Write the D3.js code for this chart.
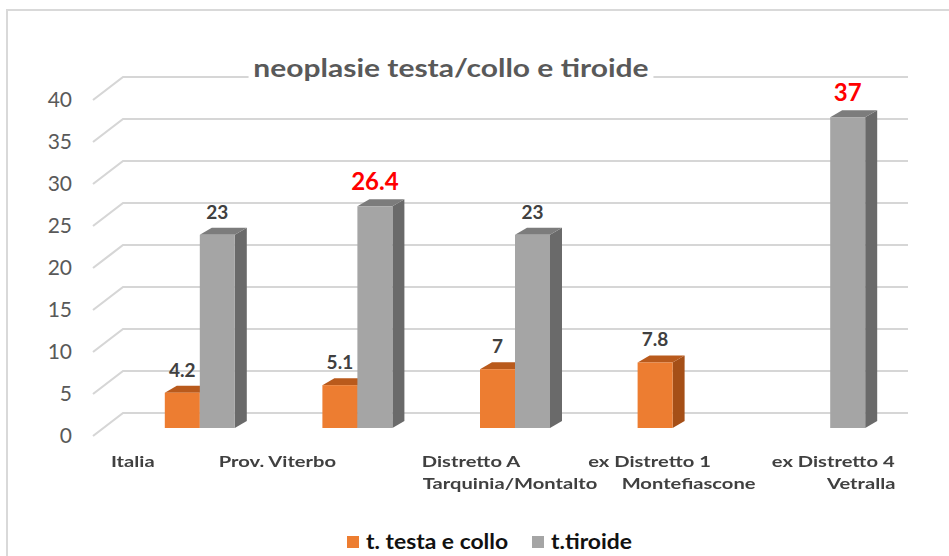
<!DOCTYPE html>
<html>
<head>
<meta charset="utf-8">
<script src="https://cdn.jsdelivr.net/npm/d3@7"></script>
<style>
  html, body { margin: 0; padding: 0; background: #fff; }
  svg { display: block; font-family: Lato, "Open Sans", sans-serif; }
</style>
</head>
<body>
<svg id="chart" width="949" height="556"></svg>
<script>
// Category labels (one entry per line of each label)
const categories = ["Italia", "Prov. Viterbo", "Distretto A", "ex Distretto 1", "ex Distretto 4"];
const categoryLines = [
  ["Italia"],
  ["Prov. Viterbo"],
  ["Distretto A", "Tarquinia/Montalto"],
  ["ex Distretto 1", "Montefiascone"],
  ["ex Distretto 4", "Vetralla"]
];
const seriesNames = ["t. testa e collo", "t.tiroide"];
const testaCollo = [4.2, 5.1, 7, 7.8, null];
const tiroide = [23, 26.4, 23, null, 37];
// values printed in red
const tiroideHighlight = [false, true, false, false, true];
const yTicks = [0, 5, 10, 15, 20, 25, 30, 35, 40];
const chartTitle = "neoplasie testa/collo e tiroide";

// horizontal shift of each label line from its category centre
const labelShift = [[-67], [-80], [-44, -5], [-23, 16], [3, 31]];

const colors = {
  orange: { front: "#ED7D31", top: "#B95A1C", side: "#A54F17" },
  gray:   { front: "#A5A5A5", top: "#7C7C7C", side: "#6A6A6A" }
};

const svg = d3.select("#chart");

// outer chart frame
svg.append("rect")
  .attr("x", 7).attr("y", 10)
  .attr("width", 960).attr("height", 560)
  .attr("fill", "#fff")
  .attr("stroke", "#d9d9d9").attr("stroke-width", 2);

// value scale on the bars' front face
const y = d3.scaleLinear().domain([0, 40]).range([428, 92]);
// walls: back plane and front (tick) plane offsets
const back = { dx: 30, dy: -15 };
const frontPlane = { x: 93, dy: 8 };
const gridRight = 908;

const x = d3.scaleBand().domain(categories).range([121, 909]).padding(0);
const barW = 35;
const depth = { dx: 12, dy: -7 };
const xs = d3.scaleBand().domain(seriesNames).range([-barW, barW]).padding(0);

// gridlines: slanted side wall + horizontal back wall
const grid = svg.append("g");
yTicks.forEach(t => {
  const yf = y(t) + frontPlane.dy;
  grid.append("path")
    .attr("d", d3.line()([[frontPlane.x, yf], [frontPlane.x + back.dx, y(t) + back.dy], [gridRight, y(t) + back.dy]]))
    .attr("fill", "none")
    .attr("stroke", "#d6d6d6")
    .attr("stroke-width", 2.2);
});

// y tick labels
svg.append("g").selectAll("text")
  .data(yTicks).join("text")
  .attr("x", 72)
  .attr("y", d => y(d) + frontPlane.dy + 2)
  .attr("text-anchor", "end")
  .attr("dominant-baseline", "middle")
  .attr("font-size", 21)
  .attr("fill", "#595959")
  .text(d => d);

// title with white backing
const titleG = svg.append("g").attr("transform", "translate(451,77) scale(1.2,1)");
const titleText = titleG.append("text")
  .attr("text-anchor", "middle")
  .attr("font-size", 25)
  .attr("font-weight", "bold")
  .attr("fill", "#595959")
  .text(chartTitle);
const tb = titleText.node().getBBox();
titleG.insert("rect", "text")
  .attr("x", tb.x - 4).attr("y", tb.y)
  .attr("width", tb.width + 8).attr("height", tb.height)
  .attr("fill", "#fff");

// 3D bars
function bar3d(g, cx, name, v, col) {
  if (v == null) return;
  const x0 = cx + xs(name), x1 = x0 + xs.bandwidth();
  const yt = y(v), yb = y(0);
  g.append("polygon")
    .attr("points", [[x1, yt], [x1 + depth.dx, yt + depth.dy], [x1 + depth.dx, yb + depth.dy], [x1, yb]].join(" "))
    .attr("fill", col.side);
  g.append("polygon")
    .attr("points", [[x0, yt], [x0 + depth.dx, yt + depth.dy], [x1 + depth.dx, yt + depth.dy], [x1, yt]].join(" "))
    .attr("fill", col.top);
  g.append("rect")
    .attr("x", x0).attr("y", yt)
    .attr("width", x1 - x0).attr("height", yb - yt)
    .attr("fill", col.front);
}

const bars = svg.append("g");
categories.forEach((c, i) => {
  const cx = x(c) + x.bandwidth() / 2;
  bar3d(bars, cx, seriesNames[0], testaCollo[i], colors.orange);
  bar3d(bars, cx, seriesNames[1], tiroide[i], colors.gray);
});

// value labels
const labels = svg.append("g").attr("font-weight", "bold").attr("text-anchor", "middle");
categories.forEach((c, i) => {
  const cx = x(c) + x.bandwidth() / 2;
  [[seriesNames[0], testaCollo[i], false], [seriesNames[1], tiroide[i], tiroideHighlight[i]]].forEach(([name, v, hi]) => {
    if (v == null) return;
    labels.append("text")
      .attr("x", cx + xs(name) + xs.bandwidth() / 2)
      .attr("y", y(v) - 16)
      .attr("font-size", hi ? 24 : 19)
      .attr("fill", hi ? "#FF0000" : "#404040")
      .text(v);
  });
});

// category labels (soft rendering, wide setting)
const defs = svg.append("defs");
defs.append("filter").attr("id", "soft")
  .append("feGaussianBlur").attr("stdDeviation", 0.55);
const catG = svg.append("g")
  .attr("font-size", 15.5)
  .attr("font-weight", "bold")
  .attr("fill", "#404040")
  .attr("text-anchor", "middle")
  .attr("filter", "url(#soft)");
categoryLines.forEach((lines, i) => {
  const cx = x(categories[i]) + x.bandwidth() / 2;
  lines.forEach((ln, j) => {
    catG.append("text")
      .attr("transform", `translate(${cx + labelShift[i][j]},${467 + j * 22}) scale(1.3,1)`)
      .text(ln);
  });
});

// legend
const legend = svg.append("g").attr("font-size", 21).attr("font-weight", "bold").attr("fill", "#111");
const legendItems = [
  { name: seriesNames[0], color: colors.orange.front, x: 347 },
  { name: seriesNames[1], color: colors.gray.front, x: 532 }
];
legendItems.forEach(d => {
  legend.append("rect").attr("x", d.x).attr("y", 536).attr("width", 12).attr("height", 12).attr("fill", d.color);
  legend.append("text")
    .attr("transform", `translate(${d.x + 19},549) scale(1.09,1)`)
    .text(d.name);
});
</script>
</body>
</html>
